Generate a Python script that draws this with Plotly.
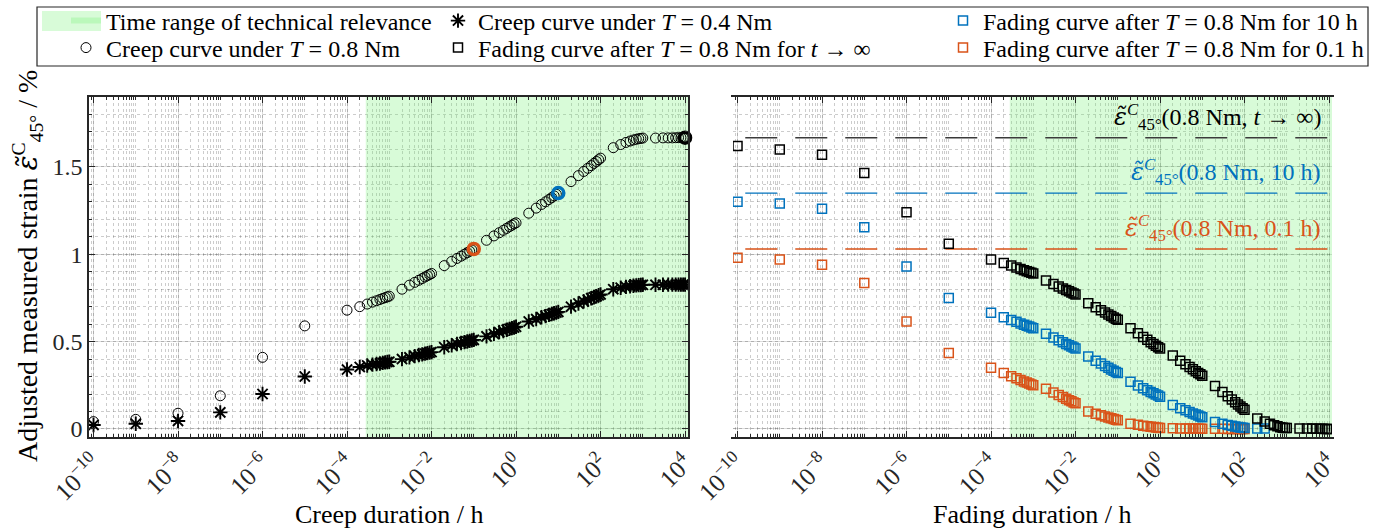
import plotly.graph_objects as go

FONT = "Liberation Serif"

# ---------------- data ----------------
T_CREEP = [1e-10, 1e-9, 1e-8, 1e-7, 1e-6, 1e-5,
           1e-4, 2e-4, 3e-4, 4e-4, 5e-4, 6e-4, 7e-4, 8e-4, 9e-4,
           1e-3, 2e-3, 3e-3, 4e-3, 5e-3, 6e-3, 7e-3, 8e-3, 9e-3,
           1e-2, 2e-2, 3e-2, 4e-2, 5e-2, 6e-2, 7e-2, 8e-2, 9e-2,
           1e-1, 2e-1, 3e-1, 4e-1, 5e-1, 6e-1, 7e-1, 8e-1, 9e-1,
           1e0, 2e0, 3e0, 4e0, 5e0, 6e0, 7e0, 8e0, 9e0,
           1e1, 2e1, 3e1, 4e1, 5e1, 6e1, 7e1, 8e1, 9e1,
           1e2, 2e2, 3e2, 4e2, 5e2, 6e2, 7e2, 8e2, 9e2,
           1e3, 2e3, 3e3, 4e3, 5e3, 6e3, 7e3, 8e3, 9e3,
           1e4]
T_FADE = list(T_CREEP)

CREEP_08 = [0.042, 0.055, 0.090, 0.190, 0.410, 0.590,
            0.680,
            0.700, 0.715, 0.726, 0.734, 0.741, 0.747, 0.752, 0.756, 0.760,
            0.800, 0.823, 0.839, 0.851, 0.861, 0.870, 0.877, 0.884, 0.890,
            0.935, 0.959, 0.976, 0.989, 1.000, 1.009, 1.017, 1.024, 1.030,
            1.080, 1.105, 1.123, 1.137, 1.148, 1.158, 1.166, 1.174, 1.180,
            1.235, 1.264, 1.285, 1.300, 1.313, 1.324, 1.334, 1.343, 1.350,
            1.416, 1.450, 1.474, 1.492, 1.507, 1.520, 1.531, 1.541, 1.550,
            1.610, 1.628, 1.640, 1.648, 1.654, 1.658, 1.661, 1.663, 1.665,
            1.665, 1.666, 1.666, 1.666, 1.667, 1.667, 1.667, 1.667, 1.667]

CREEP_04 = [0.023, 0.030, 0.046, 0.095, 0.200, 0.300,
            0.340,
            0.355, 0.363, 0.368, 0.372, 0.375, 0.378, 0.381, 0.383, 0.385,
            0.400, 0.410, 0.417, 0.423, 0.427, 0.431, 0.434, 0.437, 0.440,
            0.468, 0.479, 0.486, 0.492, 0.497, 0.501, 0.504, 0.507, 0.510,
            0.530, 0.544, 0.554, 0.561, 0.568, 0.573, 0.577, 0.581, 0.585,
            0.615, 0.629, 0.639, 0.646, 0.653, 0.658, 0.662, 0.666, 0.670,
            0.700, 0.718, 0.730, 0.740, 0.748, 0.754, 0.760, 0.765, 0.770,
            0.800, 0.808, 0.813, 0.817, 0.820, 0.822, 0.823, 0.824, 0.825,
            0.825, 0.825, 0.826, 0.826, 0.826, 0.826, 0.826, 0.826, 0.826]

FADE_INF = [1.620, 1.600, 1.570, 1.465, 1.240, 1.060,
            0.970,
            0.950, 0.935, 0.924, 0.916, 0.909, 0.903, 0.898, 0.894, 0.890,
            0.850, 0.830, 0.816, 0.804, 0.795, 0.788, 0.781, 0.775, 0.770,
            0.720, 0.696, 0.679, 0.666, 0.655, 0.646, 0.638, 0.631, 0.625,
            0.577, 0.548, 0.527, 0.510, 0.497, 0.486, 0.476, 0.468, 0.460,
            0.420, 0.391, 0.370, 0.355, 0.342, 0.331, 0.321, 0.313, 0.305,
            0.246, 0.212, 0.187, 0.169, 0.153, 0.140, 0.129, 0.119, 0.110,
            0.060, 0.042, 0.030, 0.021, 0.015, 0.010, 0.007, 0.006, 0.005,
            0.003, 0.002, 0.002, 0.001, 0.001, 0.001, 0.000, 0.000, 0.000]

FADE_10H = [1.300, 1.290, 1.260, 1.155, 0.930, 0.750,
            0.665,
            0.640, 0.624, 0.613, 0.604, 0.597, 0.591, 0.586, 0.581, 0.577,
            0.545, 0.524, 0.508, 0.497, 0.487, 0.479, 0.472, 0.466, 0.460,
            0.415, 0.391, 0.374, 0.361, 0.350, 0.341, 0.333, 0.326, 0.320,
            0.270, 0.249, 0.233, 0.222, 0.212, 0.204, 0.197, 0.191, 0.185,
            0.137, 0.119, 0.107, 0.097, 0.089, 0.083, 0.077, 0.072, 0.067,
            0.040, 0.030, 0.023, 0.018, 0.014, 0.011, 0.009, 0.007, 0.005,
            0.003, 0.002]

FADE_01H = [0.980, 0.970, 0.940, 0.835, 0.615, 0.435,
            0.350,
            0.320, 0.302, 0.290, 0.280, 0.272, 0.266, 0.260, 0.255, 0.250,
            0.230, 0.209, 0.194, 0.183, 0.173, 0.165, 0.158, 0.152, 0.147,
            0.100, 0.087, 0.078, 0.072, 0.066, 0.061, 0.057, 0.053, 0.050,
            0.030, 0.024, 0.019, 0.016, 0.013, 0.011, 0.009, 0.007, 0.005,
            0.004, 0.003, 0.003, 0.002, 0.002, 0.002, 0.001, 0.001, 0.001,
            0.001, 0.001, 0.000, 0.000, 0.000, 0.000, 0.000, 0.000, 0.000]

HIGHLIGHT_T = [0.1, 10.0, 1e4]            # 0.1 h, 10 h, t -> infinity
TECH_START = 1.0 / 3600.0                 # 1 s in hours
TECH_END = 1e5

X_TICKS = [1e-10, 1e-8, 1e-6, 1e-4, 1e-2, 1e0, 1e2, 1e4]
X_TICK_LABELS = ["10<sup>−10</sup>", "10<sup>−8</sup>", "10<sup>−6</sup>", "10<sup>−4</sup>",
                 "10<sup>−2</sup>", "10<sup>0</sup>", "10<sup>2</sup>", "10<sup>4</sup>"]
Y_TICKS = [0, 0.5, 1, 1.5]
Y_TICK_LABELS = ["0", "0.5", "1", "1.5"]

# ---------------- styles ----------------
W, H = 1380, 530
BLACK = "#000000"
BLUE = "#0072BD"
ORANGE = "#D95319"
GREEN_FILL = "rgba(110,240,110,0.27)"
AX = "#262626"
XDOM1 = [89 / W, 688 / W]
XDOM2 = [733 / W, 1332 / W]
YDOM = [1 - 437 / H, 1 - 97 / H]

hl_vals = [CREEP_08[T_CREEP.index(t)] for t in HIGHLIGHT_T]
hl_colors = [ORANGE, BLUE, BLACK]
eps_inf, eps_10, eps_01 = hl_vals[2], hl_vals[1], hl_vals[0]

fig = go.Figure()

# green region (both panels)
for i, (xa, ya) in enumerate([("x", "y"), ("x2", "y2")]):
    fig.add_trace(go.Scatter(
        x=[TECH_START, TECH_END, TECH_END, TECH_START, TECH_START],
        y=[-1, -1, 3, 3, -1], xaxis=xa, yaxis=ya,
        mode="none", fill="toself", fillcolor=GREEN_FILL,
        name="Time range of technical relevance", legend="legend",
        legendgroup="green", showlegend=(i == 0), hoverinfo="skip"))

# dashed reference lines (right panel)
for val, col in [(eps_inf, "#3a3a3a"), (eps_10, BLUE), (eps_01, ORANGE)]:
    fig.add_trace(go.Scatter(
        x=[1e-11, 1e5], y=[val, val], xaxis="x2", yaxis="y2", mode="lines",
        line=dict(color=col, width=1.4, dash="32px,18px"), showlegend=False,
        hoverinfo="skip"))

# creep curves (left panel)
fig.add_trace(go.Scatter(
    x=T_CREEP, y=CREEP_08, xaxis="x", yaxis="y", mode="markers",
    marker=dict(symbol="circle-open", size=10, color=BLACK, line=dict(width=1)),
    name="Creep curve under <i>T</i> = 0.8 Nm", legend="legend4"))
fig.add_trace(go.Scatter(
    x=T_CREEP, y=CREEP_04, xaxis="x", yaxis="y", mode="markers",
    marker=dict(symbol="asterisk-open", size=12, color=BLACK, line=dict(width=1.9, color=BLACK)),
    name="Creep curve under <i>T</i> = 0.4 Nm", legend="legend2"))
fig.add_trace(go.Scatter(
    x=HIGHLIGHT_T, y=hl_vals, xaxis="x", yaxis="y", mode="markers",
    marker=dict(symbol="circle-open", size=11, color=hl_colors,
                line=dict(width=3.5, color=hl_colors)),
    showlegend=False, cliponaxis=False))

# fading curves (right panel)
fig.add_trace(go.Scatter(
    x=T_FADE[:len(FADE_01H)], y=FADE_01H, xaxis="x2", yaxis="y2", mode="markers",
    marker=dict(symbol="square-open", size=9, color=ORANGE, line=dict(width=1.5, color=ORANGE)),
    name="Fading curve after <i>T</i> = 0.8 Nm for 0.1 h", legend="legend6"))
fig.add_trace(go.Scatter(
    x=T_FADE[:len(FADE_10H)], y=FADE_10H, xaxis="x2", yaxis="y2", mode="markers",
    marker=dict(symbol="square-open", size=9, color=BLUE, line=dict(width=1.5, color=BLUE)),
    name="Fading curve after <i>T</i> = 0.8 Nm for 10 h", legend="legend3"))
fig.add_trace(go.Scatter(
    x=T_FADE[:len(FADE_INF)], y=FADE_INF, xaxis="x2", yaxis="y2", mode="markers",
    marker=dict(symbol="square-open", size=9, color=BLACK, line=dict(width=1.5, color=BLACK)),
    name="Fading curve after <i>T</i> = 0.8 Nm for <i>t</i> → ∞", legend="legend5"))

minor_x = [n * 10.0 ** k for k in range(-11, 5) for n in range(1, 10)]

def xaxis_style(domain):
    return dict(
        type="log", domain=domain, range=[-10.107, 4.07],
        tickmode="array", tickvals=X_TICKS, ticktext=X_TICK_LABELS,
        tickangle=-45, ticks="inside", ticklen=6, tickwidth=1, tickcolor=AX,
        showline=True, linecolor=AX, linewidth=1.5, mirror="allticks",
        showgrid=True, gridcolor="rgba(0,0,0,0.14)", gridwidth=1, zeroline=False,
        tickfont=dict(family=FONT, size=25, color=AX), automargin=False,
        minor=dict(tickmode="array", tickvals=minor_x, ticks="inside", ticklen=3,
                   tickcolor=AX, showgrid=True, gridcolor="rgba(0,0,0,0.2)",
                   griddash="dot", gridwidth=1))

def yaxis_style(labels):
    return dict(
        domain=YDOM, range=[-0.046, 1.90],
        tickmode="array", tickvals=Y_TICKS, ticktext=Y_TICK_LABELS, showticklabels=labels,
        ticks="inside", ticklen=6, tickwidth=1, tickcolor=AX,
        showline=True, linecolor=AX, linewidth=1.5, mirror="allticks",
        showgrid=True, gridcolor="rgba(0,0,0,0.14)", gridwidth=1, zeroline=False,
        tickfont=dict(family=FONT, size=24, color=AX), automargin=False,
        minor=dict(dtick=0.1, ticks="inside", ticklen=3, tickcolor=AX, showgrid=True,
                   gridcolor="rgba(0,0,0,0.2)", griddash="dot", gridwidth=1))

def leg(xpx, ypx):
    return dict(x=xpx / W, y=1 - ypx / H, xanchor="left", yanchor="middle",
                bgcolor="rgba(0,0,0,0)", borderwidth=0,
                font=dict(family=FONT, size=24, color="#000"), orientation="v",
                tracegroupgap=0)

ROW1, ROW2 = 21, 48
COL1, COL2, COL3 = 66, 438, 943

eps_html = ("<i><span style='font-family:DejaVu Serif'>ε̃</span></i>"
            "<sup><i>C</i></sup><sub>45°</sub>")
eps_html_y = ("<i><span style='font-family:DejaVu Serif'>ε̃</span></i>"
              "<sup>C</sup><sub>45°</sub>")

fig.update_layout(
    width=W, height=H, margin=dict(l=0, r=0, t=0, b=0, autoexpand=False),
    paper_bgcolor="white", plot_bgcolor="white",
    font=dict(family=FONT, color="#000"),
    xaxis=xaxis_style(XDOM1), yaxis=yaxis_style(True),
    xaxis2=xaxis_style(XDOM2), yaxis2=yaxis_style(False),
    legend=leg(COL1, ROW1), legend2=leg(COL2, ROW1), legend3=leg(COL3, ROW1),
    legend4=leg(COL1, ROW2), legend5=leg(COL2, ROW2), legend6=leg(COL3, ROW2),
    shapes=[
        dict(type="rect", xref="paper", yref="paper",
             x0=37 / W, x1=1368 / W, y0=1 - 66 / H, y1=1 - 7 / H,
             line=dict(color=AX, width=1.2), fillcolor="rgba(0,0,0,0)"),
        dict(type="rect", xref="paper", yref="paper",
             x0=42 / W, x1=101 / W, y0=1 - 31 / H, y1=1 - 11 / H,
             line=dict(width=0), fillcolor=GREEN_FILL, layer="below"),
    ],
    annotations=[
        dict(text="Adjusted measured strain " + eps_html_y + " / %", xref="paper", yref="paper",
             x=27 / W, y=1 - 266 / H, textangle=-90, showarrow=False,
             font=dict(family=FONT, size=28, color="#000"), xanchor="center", yanchor="middle"),
        dict(text="Creep duration / h", xref="paper", yref="paper",
             x=(XDOM1[0] + XDOM1[1]) / 2, y=1 - 514 / H, showarrow=False,
             font=dict(family=FONT, size=26, color="#000"), xanchor="center", yanchor="middle"),
        dict(text="Fading duration / h", xref="paper", yref="paper",
             x=(XDOM2[0] + XDOM2[1]) / 2, y=1 - 514 / H, showarrow=False,
             font=dict(family=FONT, size=26, color="#000"), xanchor="center", yanchor="middle"),
        dict(text=eps_html + "(0.8 Nm, <i>t</i> → ∞)", xref="x2 domain", yref="y2",
             x=0.985, y=eps_inf, xanchor="right", yanchor="bottom", yshift=2, showarrow=False,
             font=dict(family=FONT, size=24, color="#000")),
        dict(text=eps_html + "(0.8 Nm, 10 h)", xref="x2 domain", yref="y2",
             x=0.985, y=eps_10, xanchor="right", yanchor="bottom", yshift=2, showarrow=False,
             font=dict(family=FONT, size=24, color=BLUE)),
        dict(text=eps_html + "(0.8 Nm, 0.1 h)", xref="x2 domain", yref="y2",
             x=0.985, y=eps_01, xanchor="right", yanchor="bottom", yshift=2, showarrow=False,
             font=dict(family=FONT, size=24, color=ORANGE)),
    ],
)

fig.write_html("out.html")
